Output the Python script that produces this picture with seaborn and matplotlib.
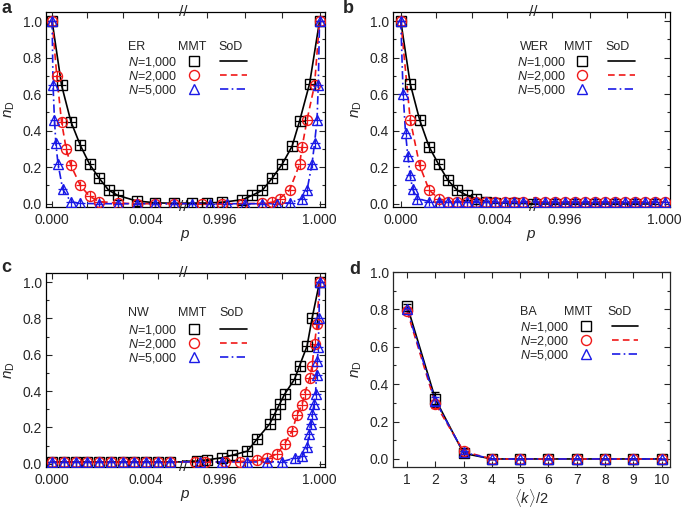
"""
Fraction of driver nodes n_D for ER, WER, NW and BA networks (MMT vs SoD).
Four panels, a-c with a broken p axis, d against <k>/2.
"""

import matplotlib

matplotlib.use("Agg")
import matplotlib.pyplot as plt
import seaborn as sns
from matplotlib.legend_handler import HandlerTuple
from matplotlib.lines import Line2D
from matplotlib.ticker import FixedLocator, FormatStrFormatter, MultipleLocator

W, H = 685, 511

# ---------------- data ----------------
# panel a, ER
ER_P_1000 = [0, 0.0004, 0.0008, 0.0012, 0.0016, 0.002, 0.0024, 0.0028, 0.0036, 0.0044, 0.0052,
             0.9949, 0.9955, 0.9961, 0.9969, 0.9973, 0.9977, 0.9981, 0.9985, 0.9989, 0.9992, 0.9996, 1.0]
ER_N_1000 = [1.0, 0.65, 0.45, 0.32, 0.215, 0.14, 0.075, 0.045, 0.015, 0.005, 0.002,
             0.003, 0.004, 0.008, 0.022, 0.046, 0.073, 0.14, 0.216, 0.315, 0.453, 0.657, 1.0]
ER_P_2000 = [0, 0.0002, 0.0004, 0.0006, 0.0008, 0.0012, 0.0016, 0.002, 0.0028, 0.0036, 0.0044, 0.0052,
             0.9953, 0.9961, 0.9969, 0.9977, 0.9981, 0.9984, 0.9988, 0.9992, 0.9993, 0.9995, 0.9998, 1.0]
ER_N_2000 = [1.0, 0.70, 0.45, 0.30, 0.21, 0.10, 0.04, 0.012, 0.003, 0.0, 0.0, 0.0,
             0.0, 0.0, 0.0, 0.002, 0.008, 0.028, 0.075, 0.216, 0.31, 0.46, 0.65, 1.0]
ER_P_5000 = [0, 0.00004, 0.0001, 0.00016, 0.00025, 0.00045, 0.0008, 0.0012, 0.002, 0.0028, 0.0036, 0.0044, 0.0052,
             0.9949, 0.9956, 0.9963, 0.997, 0.9977, 0.9983, 0.9988, 0.9993, 0.9995, 0.9997, 0.9998, 0.9999, 0.99995, 1.0]
ER_N_5000 = [1.0, 0.65, 0.46, 0.33, 0.22, 0.08, 0.01, 0.002, 0.0, 0.0, 0.0, 0.0, 0.0,
             0.0, 0.0, 0.0, 0.0, 0.0, 0.001, 0.005, 0.028, 0.075, 0.22, 0.33, 0.46, 0.65, 1.0]

# panel b, WER
WER_P_1000 = [0, 0.0004, 0.0008, 0.0012, 0.0016, 0.002, 0.0024, 0.0028, 0.0032, 0.0036, 0.004, 0.0048, 0.0056,
              0.9948, 0.9956, 0.9964, 0.9972, 0.998, 0.9988, 0.9996]
WER_N_1000 = [1.0, 0.657, 0.459, 0.312, 0.216, 0.128, 0.073, 0.046, 0.028, 0.012, 0.005, 0.002, 0.0,
              0.0, 0.0, 0.0, 0.0, 0.0, 0.0, 0.0]
WER_P_2000 = [0, 0.0004, 0.0008, 0.0012, 0.0016, 0.002, 0.0024, 0.0028, 0.0032, 0.0036, 0.004, 0.0044, 0.0048, 0.0052,
              0.9948, 0.9952, 0.9956, 0.996, 0.9964, 0.9968, 0.9972, 0.9976, 0.998, 0.9984, 0.9988, 0.9992, 0.9996, 1.0]
WER_N_2000 = [1.0, 0.46, 0.21, 0.075, 0.028, 0.012, 0.01, 0.01, 0.01, 0.01, 0.01, 0.01, 0.01, 0.01,
              0.01, 0.01, 0.01, 0.01, 0.01, 0.01, 0.01, 0.01, 0.01, 0.01, 0.01, 0.01, 0.01, 0.01]
WER_P_5000 = [0, 0.0001, 0.0002, 0.0003, 0.0004, 0.0005, 0.0007, 0.0012, 0.0016, 0.002, 0.0024, 0.0028, 0.0032,
              0.0036, 0.004, 0.0044, 0.0048, 0.0052,
              0.9948, 0.9952, 0.9956, 0.996, 0.9964, 0.9968, 0.9972, 0.9976, 0.998, 0.9984, 0.9988, 0.9992, 0.9996, 1.0]
WER_N_5000 = [1.0, 0.60, 0.39, 0.26, 0.155, 0.08, 0.028, 0.012, 0.012, 0.012, 0.012, 0.012, 0.012,
              0.012, 0.012, 0.012, 0.012, 0.012,
              0.012, 0.012, 0.012, 0.012, 0.012, 0.012, 0.012, 0.012, 0.012, 0.012, 0.012, 0.012, 0.012, 0.012]

# panel c, NW
NW_P_1000 = [0, 0.0005, 0.001, 0.0015, 0.002, 0.0025, 0.003, 0.0035, 0.004, 0.0045, 0.005,
             0.9951, 0.9955, 0.9961, 0.9965, 0.9971, 0.9975, 0.998, 0.9982, 0.9984, 0.9986, 0.999, 0.9992,
             0.9995, 0.9997, 1.0]
NW_N_1000 = [0.01, 0.01, 0.01, 0.01, 0.01, 0.01, 0.01, 0.01, 0.01, 0.01, 0.01,
             0.014, 0.022, 0.033, 0.047, 0.069, 0.137, 0.219, 0.274, 0.329, 0.383, 0.466, 0.54,
             0.648, 0.80, 1.0]
NW_P_2000 = [0, 0.0005, 0.001, 0.0015, 0.002, 0.0025, 0.003, 0.0035, 0.004, 0.0045, 0.005,
             0.995, 0.9954, 0.9962, 0.9968, 0.9975, 0.9979, 0.9983, 0.9986, 0.9989, 0.9991, 0.9993, 0.9994,
             0.9996, 0.9997, 0.9998, 0.9999, 1.0]
NW_N_2000 = [0.01, 0.01, 0.01, 0.01, 0.01, 0.01, 0.01, 0.01, 0.01, 0.01, 0.01,
             0.01, 0.01, 0.01, 0.012, 0.022, 0.03, 0.055, 0.11, 0.18, 0.27, 0.325, 0.385,
             0.47, 0.54, 0.66, 0.77, 1.0]
NW_P_5000 = [0, 0.0005, 0.001, 0.0015, 0.002, 0.0025, 0.003, 0.0035, 0.004, 0.0045, 0.005,
             0.9952, 0.9961, 0.9971, 0.9979, 0.9985, 0.999, 0.9993, 0.9995, 0.99958, 0.99964, 0.99971,
             0.99978, 0.99984, 0.99988, 0.99991, 0.99995, 0.99998, 1.0]
NW_N_5000 = [0.01, 0.01, 0.01, 0.01, 0.01, 0.01, 0.01, 0.01, 0.01, 0.01, 0.01,
             0.01, 0.01, 0.01, 0.01, 0.012, 0.03, 0.04, 0.09, 0.165, 0.22, 0.275,
             0.33, 0.385, 0.49, 0.565, 0.64, 0.8, 1.0]

# panel d, BA
BA_K = [1, 2, 3, 4, 5, 6, 7, 8, 9, 10]
BA_N_1000 = [0.82, 0.32, 0.03, 0.0, 0.0, 0.0, 0.0, 0.0, 0.0, 0.0]
BA_N_2000 = [0.79, 0.295, 0.04, 0.0, 0.0, 0.0, 0.0, 0.0, 0.0, 0.0]
BA_N_5000 = [0.80, 0.31, 0.035, 0.0, 0.0, 0.0, 0.0, 0.0, 0.0, 0.0]
BA_ERR_1000 = [0.01, 0.04, 0.015, 0.0, 0.0, 0.0, 0.0, 0.0, 0.0, 0.0]
BA_ERR_2000 = [0.01, 0.02, 0.012, 0.0, 0.0, 0.0, 0.0, 0.0, 0.0, 0.0]
BA_ERR_5000 = [0.01, 0.02, 0.01, 0.0, 0.0, 0.0, 0.0, 0.0, 0.0, 0.0]

# error bars of the MMT points in a-c (small crosses inside the markers)
ERR_P = 0.0002
ERR_N = 0.027

LABELS = [r"$N$=1,000", r"$N$=2,000", r"$N$=5,000"]

# ---------------- style ----------------
sns.set_style("ticks")
plt.rcParams["font.family"] = ["Liberation Sans", "DejaVu Sans"]
plt.rcParams["mathtext.fontset"] = "custom"
plt.rcParams["mathtext.rm"] = "Liberation Sans"
plt.rcParams["mathtext.it"] = "Liberation Sans:italic"
plt.rcParams["mathtext.bf"] = "Liberation Sans:bold"
plt.rcParams["axes.linewidth"] = 0.9

STYLES = [
    dict(color="black", marker="s", ms=6.5, ls="-"),
    dict(color="#f01818", marker="o", ms=7.2, ls=(0, (4, 2.5))),
    dict(color="#1a1ae6", marker="^", ms=7.8, ls=(0, (5, 2, 1, 2))),
]
YLIM = (-0.018, 1.05)


def px_rect(l, t, r, b):
    return [l / W, 1 - b / H, (r - l) / W, (b - t) / H]


def style_y(ax, ylim):
    ax.set_ylim(ylim)
    ax.yaxis.set_major_locator(MultipleLocator(0.2))
    ax.yaxis.set_minor_locator(MultipleLocator(0.1))
    ax.yaxis.set_major_formatter(FormatStrFormatter("%.1f"))
    ax.tick_params(axis="y", which="both", direction="in", left=True, right=True,
                   labelsize=10, width=0.8, pad=3)
    ax.tick_params(axis="y", which="major", length=4)
    ax.tick_params(axis="y", which="minor", length=2)
    ax.set_ylabel(r"$n_{\rm D}$", fontsize=11, labelpad=4)


def draw_series(ax, x, y, st, xerr=None, yerr=None, capsize=0):
    sns.lineplot(x=x, y=y, ax=ax, color=st["color"], sort=False, estimator=None,
                 lw=1.2, legend=False, zorder=2)
    ax.lines[-1].set_linestyle(st["ls"])
    ax.errorbar(x, y, xerr=xerr, yerr=yerr, fmt=st["marker"], ms=st["ms"], mfc="none",
                mec=st["color"], mew=1.0, ecolor=st["color"], elinewidth=0.9,
                capsize=capsize, zorder=3)


def add_key(ax, name, name_x, x0, y_head, mmt_x, sod_x, y_row1):
    kw = dict(transform=ax.transAxes, fontsize=9, va="center")
    ax.text(name_x, y_head, name, ha="left", **kw)
    ax.text(mmt_x, y_head, "MMT", ha="center", **kw)
    ax.text(sod_x, y_head, "SoD", ha="center", **kw)
    handles = []
    for st in STYLES:
        mk = Line2D([], [], ls="none", marker=st["marker"], ms=st["ms"], mfc="none",
                    mec=st["color"], mew=1.0)
        ln = Line2D([], [], color=st["color"], ls=st["ls"], lw=1.2)
        handles.append((mk, ln))
    ax.legend(handles, LABELS, handler_map={tuple: HandlerTuple(ndivide=None, pad=1.0)},
              loc="upper left", bbox_to_anchor=(x0, y_row1 + 0.037), markerfirst=False,
              frameon=False, fontsize=9, borderpad=0, borderaxespad=0, labelspacing=0,
              handlelength=5.3, handletextpad=0.25)


def broken_panel(fig, box, bfrac, xl, xr, series, key):
    l, t, r, b = box
    xm = l + bfrac * (r - l)
    ax = fig.add_axes(px_rect(l, t, r, b))
    style_y(ax, YLIM)
    ax.set_xticks([])
    ax.set_xlabel("$p$", fontsize=11, labelpad=15)
    for s in ax.spines.values():
        s.set_color("black")

    axl = fig.add_axes(px_rect(l, t, xm, b))
    axr = fig.add_axes(px_rect(xm, t, r, b))
    for sub, lim, major, minor in (
        (axl, xl, [0.0, 0.004], [0.0, 0.0015, 0.003, 0.0045]),
        (axr, xr, [0.996, 1.0], [0.9955, 0.997, 0.9985, 1.0]),
    ):
        sub.set_facecolor("none")
        for s in sub.spines.values():
            s.set_visible(False)
        sub.set_xlim(lim)
        sub.set_ylim(YLIM)
        sub.xaxis.set_major_locator(FixedLocator(major))
        sub.xaxis.set_minor_locator(FixedLocator(minor))
        sub.xaxis.remove_overlapping_locs = False
        sub.xaxis.set_major_formatter(FormatStrFormatter("%.3f"))
        sub.tick_params(axis="x", which="both", direction="in", top=True, bottom=True,
                        labelsize=10, width=0.8, pad=4)
        sub.tick_params(axis="x", which="major", length=0)
        sub.tick_params(axis="x", which="minor", length=4)
        sub.tick_params(axis="y", which="both", left=False, right=False, labelleft=False)
        for (x, y), st in zip(series, STYLES):
            draw_series(sub, x, y, st, xerr=ERR_P, yerr=ERR_N)
        sub.set_xlabel("")
        sub.set_ylabel("")

    # break marks
    for yy in (1.0, 0.0):
        ax.text(bfrac, yy, "//", transform=ax.transAxes, fontsize=11, ha="center",
                va="center", zorder=5)
    add_key(ax, *key)
    return ax


fig = plt.figure(figsize=(W / 100, H / 100), dpi=100)

broken_panel(fig, (46, 12, 325, 207), 0.491, (-0.00026, 0.00557), (0.99452, 1.00022),
             [(ER_P_1000, ER_N_1000), (ER_P_2000, ER_N_2000), (ER_P_5000, ER_N_5000)],
             ("ER", 0.294, 0.294, 0.8205, 0.525, 0.66, 0.744))
broken_panel(fig, (393, 12, 670, 207), 0.505, (-0.00033, 0.0056), (0.99472, 1.00022),
             [(WER_P_1000, WER_N_1000), (WER_P_2000, WER_N_2000), (WER_P_5000, WER_N_5000)],
             ("WER", 0.458, 0.446, 0.822, 0.669, 0.812, 0.745))
broken_panel(fig, (46, 273, 325, 467), 0.491, (-0.00026, 0.00557), (0.99452, 1.00022),
             [(NW_P_1000, NW_N_1000), (NW_P_2000, NW_N_2000), (NW_P_5000, NW_N_5000)],
             ("NW", 0.295, 0.295, 0.792, 0.525, 0.666, 0.706))

# panel d
axd = fig.add_axes(px_rect(393, 272, 670, 467))
style_y(axd, (-0.043, 1.0))
for y, err, st in zip((BA_N_1000, BA_N_2000, BA_N_5000), (BA_ERR_1000, BA_ERR_2000, BA_ERR_5000), STYLES):
    draw_series(axd, BA_K, y, st, yerr=err, capsize=3)
axd.set_xlim(0.5, 10.3)
axd.set_xticks(BA_K)
axd.tick_params(axis="x", which="both", direction="in", top=True, bottom=True, length=4,
                width=0.8, labelsize=10, pad=4)
axd.set_xlabel(r"$\langle k\rangle/2$", fontsize=10.5, labelpad=0.5)
axd.set_ylabel(r"$n_{\rm D}$", fontsize=11, labelpad=4)
add_key(axd, "BA", 0.458, 0.458, 0.796, 0.668, 0.816, 0.716)

# panel letters
for x, y, letter in ((1, 13, "a"), (343, 13, "b"), (1, 272, "c"), (349, 274, "d")):
    fig.text(x / W, 1 - y / H, letter, fontsize=13, fontweight="bold", va="baseline", ha="left")

fig.savefig("out.png", dpi=100)
